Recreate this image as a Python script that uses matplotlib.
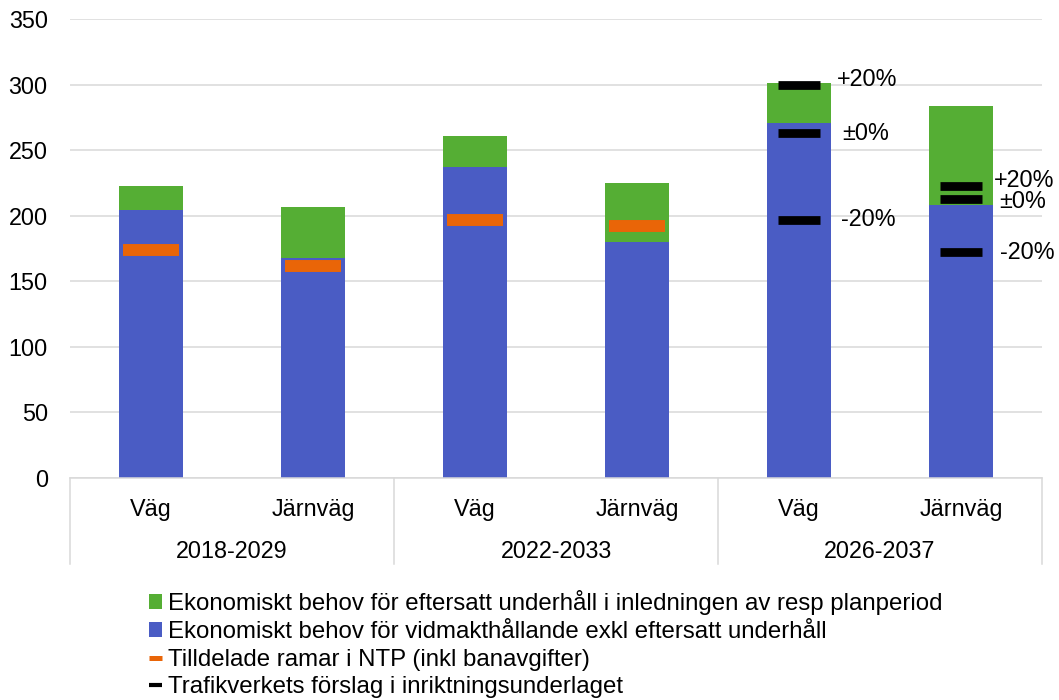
import matplotlib
matplotlib.use("Agg")
import matplotlib.pyplot as plt
from matplotlib.patches import Patch
from matplotlib.lines import Line2D

plt.rcParams["font.family"] = ["Liberation Sans", "DejaVu Sans"]

# Data
periods = ["2018-2029", "2022-2033", "2026-2037"]
modes = ["Väg", "Järnväg"]
behov_vidmakthall = [204, 168, 237, 180, 271, 208]   # blue
behov_eftersatt = [19, 39, 24, 45, 30, 76]           # green, stacked on top
ntp_ramar = [174, 162, 197, 192]                      # orange, first four bars
forslag_vag = [300, 263, 197]                         # black, 2026-2037 Väg
forslag_jarnvag = [223, 213, 172]                     # black, 2026-2037 Järnväg
forslag_labels = ["+20%", "±0%", "-20%"]

legend_labels = [
    "Ekonomiskt behov för eftersatt underhåll i inledningen av resp planperiod",
    "Ekonomiskt behov för vidmakthållande exkl eftersatt underhåll",
    "Tilldelade ramar i NTP (inkl banavgifter)",
    "Trafikverkets förslag i inriktningsunderlaget",
]

GREEN = "#55AE34"
BLUE = "#4A5CC4"
ORANGE = "#E96508"
GRID = "#D9D9D9"
FS = 16.8
FS_LEG = 17.3

W, H = 1059, 700
fig = plt.figure(figsize=(W / 100, H / 100), dpi=100)
ax = fig.add_axes([70 / W, (H - 478) / H, 972 / W, (478 - 19) / H])

x = list(range(len(behov_vidmakthall)))
bw = 0.40
ax.bar(x, behov_vidmakthall, width=bw, color=BLUE, zorder=2)
ax.bar(x, behov_eftersatt, width=bw, bottom=behov_vidmakthall, color=GREEN, zorder=2)

# NTP frames
ax.hlines(ntp_ramar, [i - 0.17 for i in range(len(ntp_ramar))],
          [i + 0.17 for i in range(len(ntp_ramar))],
          color=ORANGE, lw=8.6, zorder=3, capstyle="butt")

# Proposal levels for 2026-2037
for xi, vals in ((4, forslag_vag), (5, forslag_jarnvag)):
    ax.hlines(vals, xi - 0.128, xi + 0.128, color="black", lw=6.3, zorder=3,
              capstyle="butt")

vag_offsets = [(0.234, 3.5), (0.265, 0.0), (0.26, 0.0)]
jv_offsets = [(0.202, 4.0), (0.238, -2.5), (0.238, 0.0)]
for xi, vals, offs in ((4, forslag_vag, vag_offsets), (5, forslag_jarnvag, jv_offsets)):
    for v, lab, (dx, dy) in zip(vals, forslag_labels, offs):
        ax.text(xi + dx, v + dy, lab, fontsize=FS, va="center", ha="left")

ax.set_xlim(-0.5, 5.5)
ax.set_ylim(0, 350)
ax.set_yticks(range(0, 351, 50))
ax.tick_params(axis="y", length=0, pad=16, labelsize=FS)
ax.set_xticks([])
ax.yaxis.grid(True, color=GRID, lw=1.1, zorder=0)
ax.set_axisbelow(True)
for s in ("left", "right", "top"):
    ax.spines[s].set_visible(False)
ax.spines["bottom"].set_color(GRID)
ax.spines["bottom"].set_linewidth(1.1)

# Two-level category axis
xt = ax.get_xaxis_transform()
for i in x:
    ax.text(i, -0.068, modes[i % 2], transform=xt, ha="center", va="center",
            fontsize=FS)
for g, p in enumerate(periods):
    ax.text(2 * g + 0.5, -0.161, p, transform=xt, ha="center", va="center",
            fontsize=FS)
for xb in (-0.5, 1.5, 3.5, 5.5):
    ax.plot([xb, xb], [0, -0.187], transform=xt, color=GRID, lw=1.1,
            clip_on=False)

handles = [
    Patch(facecolor=GREEN, edgecolor="none"),
    Patch(facecolor=BLUE, edgecolor="none"),
    Line2D([], [], color=ORANGE, lw=3.6, solid_capstyle="butt"),
    Line2D([], [], color="black", lw=3.0, solid_capstyle="butt"),
]
fig.legend(handles, legend_labels, loc="upper left",
           bbox_to_anchor=(149 / W, (H - 590) / H), frameon=False,
           fontsize=FS_LEG, handlelength=0.55, handleheight=0.55,
           handletextpad=0.25, labelspacing=0.24, borderpad=0,
           borderaxespad=0)

fig.savefig("out.png", dpi=100)
